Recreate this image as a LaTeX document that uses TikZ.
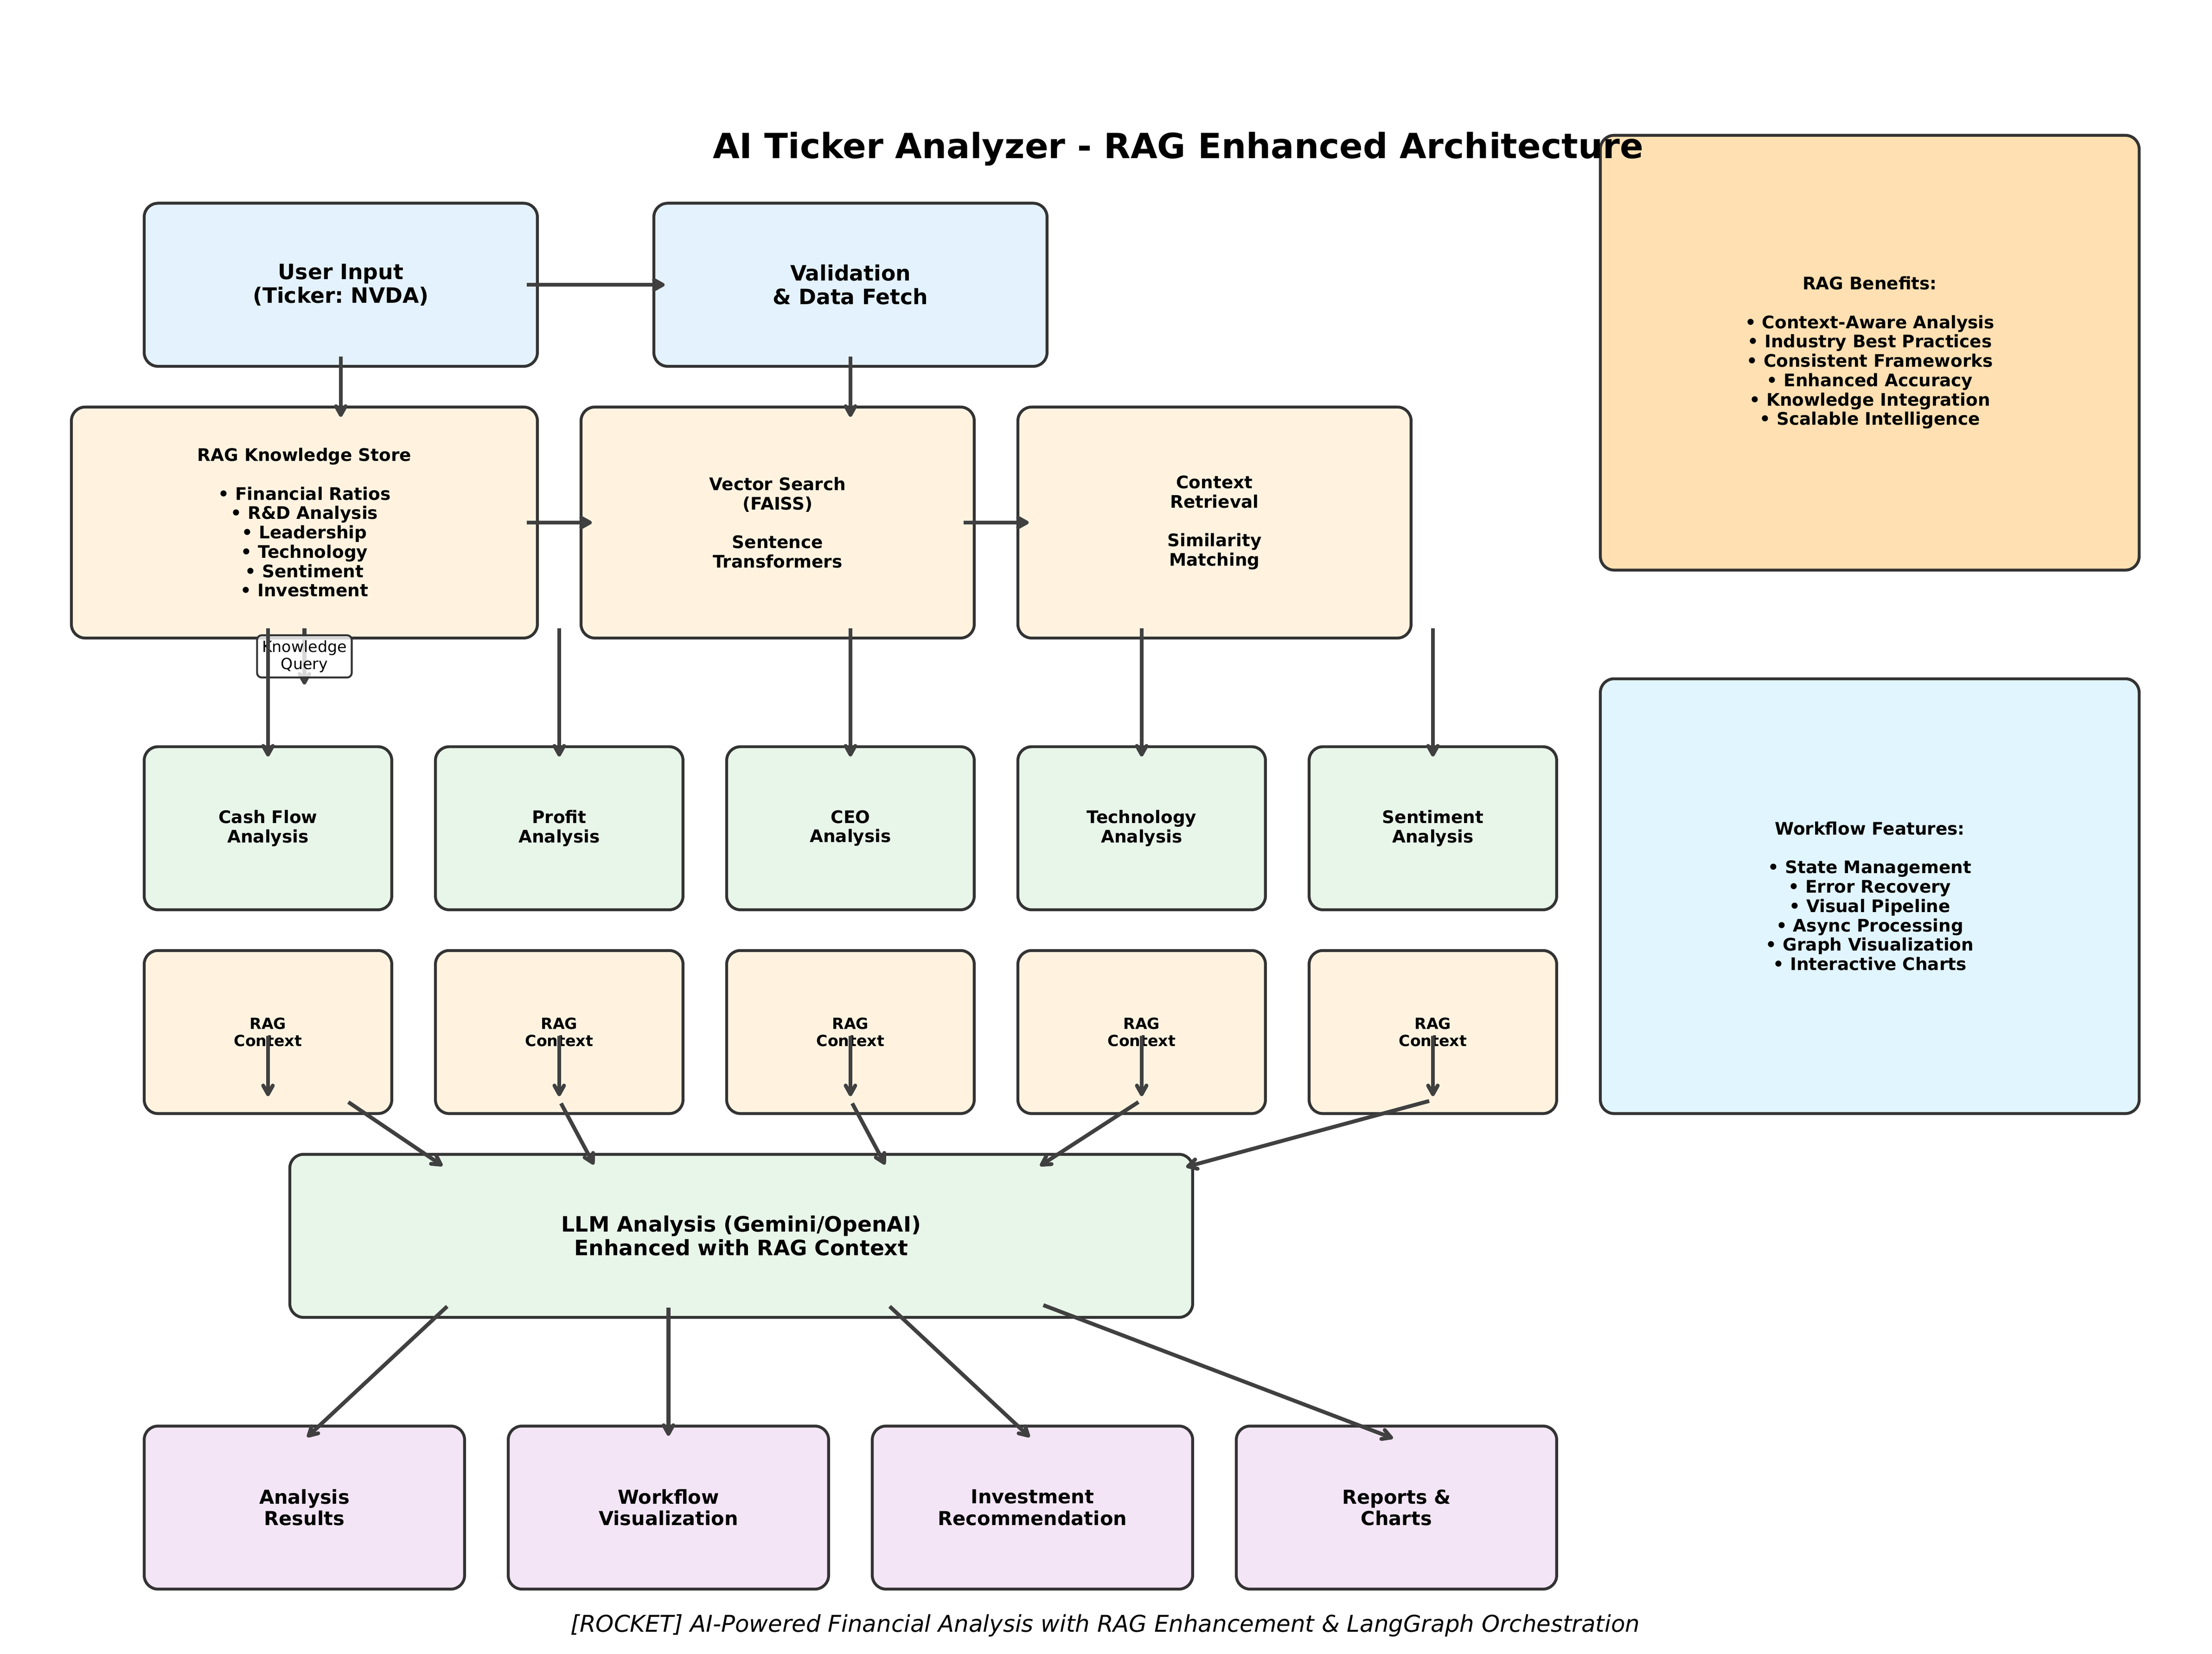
\documentclass[tikz,border=0pt]{standalone}
\usepackage{fontspec}
\setmainfont{DejaVu Sans}
\frenchspacing
\usetikzlibrary{arrows.meta,calc}
\definecolor{inputblue}{HTML}{E3F2FD}
\definecolor{ragorange}{HTML}{FFF3E0}
\definecolor{agentgreen}{HTML}{E8F5E9}
\definecolor{outpurple}{HTML}{F3E5F5}
\definecolor{benefitorange}{HTML}{FFE0B2}
\definecolor{workflowblue}{HTML}{E1F5FE}
\definecolor{edgegray}{HTML}{333333}
\definecolor{arrowgray}{HTML}{404040}

\begin{document}
\begin{tikzpicture}[x=2.65853cm, y=2.48074cm,
  box/.style 2 args={draw=edgegray, line width=1.5pt, rounded corners=0.25cm,
    minimum width=#1*2.65853cm, minimum height=#2*2.48074cm, inner sep=0pt,
    outer xsep=-0.26585cm, outer ysep=-0.24807cm, align=center},
  txtbig/.style={font=\bfseries\fontsize{11}{12.2}\selectfont},
  txtmid/.style={font=\bfseries\fontsize{10}{11.2}\selectfont},
  txtsmall/.style={font=\bfseries\fontsize{9}{10.06}\selectfont},
  txttiny/.style={font=\bfseries\fontsize{8}{9}\selectfont},
  arr/.style={draw=arrowgray, line width=2pt, -{Straight Barb[length=4.5pt,width=5pt,round]},
    shorten <=2pt, shorten >=2pt},
  qlabel/.style={draw=edgegray, line width=1pt, fill=white, fill opacity=0.8, text opacity=1,
    rounded corners=2.4pt, inner sep=2.6pt, align=center, font=\fontsize{8}{9}\selectfont}]
\useasboundingbox (0.00955,0.5256) rectangle (15.2006,12.6962);

% input row
\node[box={2.7}{1.2}, fill=inputblue, txtbig] (user) at (2.35,10.6) {User Input\\(Ticker: NVDA)};
\node[box={2.7}{1.2}, fill=inputblue, txtbig] (valid) at (5.85,10.6) {Validation\\\& Data Fetch};

% rag row
\node[box={3.2}{1.7}, fill=ragorange, txtsmall] (store) at (2.1,8.85)
  {RAG Knowledge Store\\[10pt]• Financial Ratios\\• R\&D Analysis\\• Leadership\\• Technology\\• Sentiment\\• Investment};
\node[box={2.7}{1.7}, fill=ragorange, txtsmall] (vsearch) at (5.35,8.85)
  {Vector Search\\(FAISS)\\[10pt]Sentence\\Transformers};
\node[box={2.7}{1.7}, fill=ragorange, txtsmall] (ctxret) at (8.35,8.85)
  {Context\\Retrieval\\[10pt]Similarity\\Matching};

% side panels
\node[box={3.7}{3.2}, fill=benefitorange, txtsmall] (benefits) at (12.85,10.1)
  {RAG Benefits:\\[10pt]• Context-Aware Analysis\\• Industry Best Practices\\• Consistent Frameworks\\• Enhanced Accuracy\\• Knowledge Integration\\• Scalable Intelligence};
\node[box={3.7}{3.2}, fill=workflowblue, txtsmall] (workflow) at (12.85,6.1)
  {Workflow Features:\\[10pt]• State Management\\• Error Recovery\\• Visual Pipeline\\• Async Processing\\• Graph Visualization\\• Interactive Charts};

\node[anchor=base, font=\bfseries\fontsize{18}{21}\selectfont] (title) at (8.1,11.529)
  {AI Ticker Analyzer - RAG Enhanced Architecture};

% agents and their context
\foreach \i/\txt in {1/Cash Flow, 2/Profit, 3/CEO, 4/Technology, 5/Sentiment}{
  \node[box={1.7}{1.2}, fill=agentgreen, txtsmall] (an\i) at (2*\i-0.15,6.6) {\txt\\Analysis};
  \node[box={1.7}{1.2}, fill=ragorange, txttiny] (ctx\i) at (2*\i-0.15,5.1) {RAG\\Context};
}

\node[box={6.2}{1.2}, fill=agentgreen, txtbig] (llm) at (5.1,3.6)
  {LLM Analysis (Gemini/OpenAI)\\Enhanced with RAG Context};

\foreach \i/\top/\bot in {1/Analysis/Results, 2/Workflow/Visualization, 3/Investment/Recommendation, 4/Reports \&/Charts}
  \node[box={2.2}{1.2}, fill=outpurple, txtmid] (out\i) at (2.5*\i-0.4,1.6) {\top\\\bot};

\node[anchor=base, font=\itshape\fontsize{12}{14}\selectfont] (footer) at (7.6,0.686)
  {[ROCKET] AI-Powered Financial Analysis with RAG Enhancement \& LangGraph Orchestration};

% connectors
\draw[arr] (user.east) -- (valid.west);
\draw[arr] (user.south) -- (user.south |- store.north);
\draw[arr] (valid.south) -- (valid.south |- vsearch.north);
\draw[arr] (store.east) -- (vsearch.west);
\draw[arr] (vsearch.east) -- (ctxret.west);
\draw[arr] (store.south) -- ++(0,-0.47) node[qlabel, midway] (query) {Knowledge\\Query};
\foreach \i in {1,...,5}{
  \draw[arr] (an\i.north |- store.south) -- (an\i.north);
  \draw[arr] (ctx\i.center) -- (ctx\i.south);
}
\foreach \i/\sx/\dx in {1/0.53/-2.03, 2/0/-1.0, 3/0/1.0, 4/0/2.03, 5/0/3.03}
  \draw[arr] ($(ctx\i.south)+(\sx,0)$) -- ($(llm.north)+(\dx,0)$);
\foreach \i/\dx in {1/-2.0, 2/-0.5, 3/1.0, 4/2.05}
  \draw[arr] ($(llm.south)+(\dx,0)$) -- (out\i.north);

\end{tikzpicture}
\end{document}
